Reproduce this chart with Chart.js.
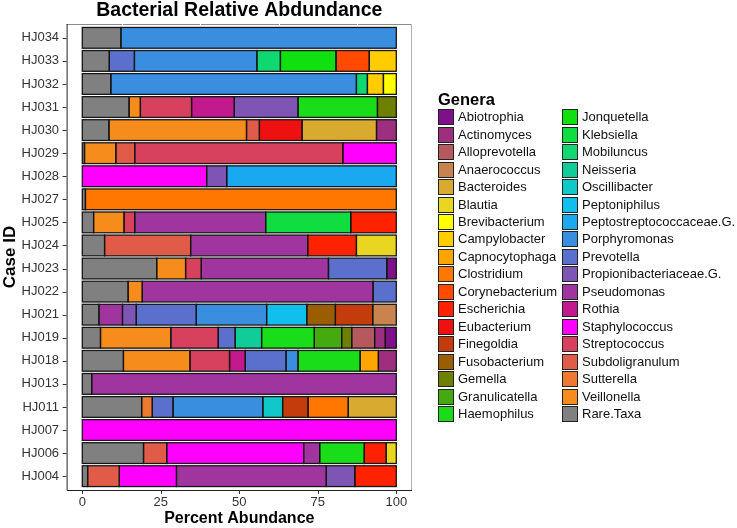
<!DOCTYPE html>
<html>
<head>
<meta charset="utf-8">
<script src="https://cdn.jsdelivr.net/npm/chart.js@4.4.1/dist/chart.umd.min.js"></script>
<style>
  body { margin: 0; background: #fff; font-family: 'Liberation Sans', Arial, sans-serif; }
  #wrap { position: relative; width: 737px; height: 528px; }
  #myChart { position: absolute; left: 0; top: 0; }
  .leg-title { position: absolute; left: 438px; top: 91px; font-weight: bold; font-size: 16.5px; line-height: 1; color: #000; }
  .leg-item { position: absolute; height: 16px; font-size: 13px; line-height: 16px; color: #111; white-space: nowrap; }
  .leg-item span { display: inline-block; width: 14px; height: 14px; border: 1px solid #222; vertical-align: top; margin-right: 4px; }
</style>
</head>
<body>
<div id="wrap">
  <canvas id="myChart" width="737" height="528"></canvas>
  <div id="legend"></div>
</div>
<script>
// case IDs, top to bottom
const cases = ['HJ034','HJ033','HJ032','HJ031','HJ030','HJ029','HJ028','HJ027','HJ025','HJ024',
               'HJ023','HJ022','HJ021','HJ019','HJ018','HJ013','HJ011','HJ007','HJ006','HJ004']
const xTicks = [0, 25, 50, 75, 100]

// percent abundance per genus, one value per case (same order as cases)
const Abiotrophia      = [0,0,0,0,0,0,0,0,0,0, 3.0,0,0,3.5,0,0,0,0,0,0]
const Actinomyces      = [0,0,0,0,6.3,0,0,0,0,0, 0,0,0,3.4,5.7,0,0,0,0,0]
const Alloprevotella   = [0,0,0,0,0,0,0,0,0,0, 0,0,0,7.3,0,0,0,0,0,0]
const Anaerococcus     = [0,0,0,0,0,0,0,0,0,0, 0,0,7.5,0,0,0,0,0,0,0]
const Bacteroides      = [0,0,0,0,23.7,0,0,0,0,0, 0,0,0,0,0,0,15.3,0,0,0]
const Blautia          = [0,0,0,0,0,0,0,0,0,12.7, 0,0,0,0,0,0,0,0,3.2,0]
const Brevibacterium   = [0,0,4.1,0,0,0,0,0,0,0, 0,0,0,0,0,0,0,0,0,0]
const Campylobacter    = [0,8.6,5.1,0,0,0,0,0,0,0, 0,0,0,0,0,0,0,0,0,0]
const Capnocytophaga   = [0,0,0,0,0,0,0,0,0,0, 0,0,0,0,5.8,0,0,0,0,0]
const Clostridium      = [0,0,0,0,0,0,0,99.0,0,0, 0,0,0,0,0,0,12.8,0,0,0]
const Corynebacterium  = [0,10.6,0,0,0,0,0,0,0,0, 0,0,0,0,0,0,0,0,0,0]
const Escherichia      = [0,0,0,0,0,0,0,0,14.5,15.5, 0,0,0,0,0,0,0,0,7.0,13.2]
const Eubacterium      = [0,0,0,0,13.6,0,0,0,0,0, 0,0,0,0,0,0,0,0,0,0]
const Finegoldia       = [0,0,0,0,0,0,0,0,0,0, 0,0,11.9,0,0,0,8.1,0,0,0]
const Fusobacterium    = [0,0,0,0,0,0,0,0,0,0, 0,0,9.1,0,0,0,0,0,0,0]
const Gemella          = [0,0,0,6.0,0,0,0,0,0,0, 0,0,0,3.2,0,0,0,0,0,0]
const Granulicatella   = [0,0,0,0,0,0,0,0,0,0, 0,0,0,8.7,0,0,0,0,0,0]
const Haemophilus      = [0,0,0,25.3,0,0,0,0,0,0, 0,0,0,16.8,19.8,0,0,0,14.2,0]
const Jonquetella      = [0,17.7,0,0,0,0,0,0,0,0, 0,0,0,0,0,0,0,0,0,0]
const Klebsiella       = [0,0,0,0,0,0,0,0,27.1,0, 0,0,0,0,0,0,0,0,0,0]
const Mobiluncus       = [0,7.5,3.5,0,0,0,0,0,0,0, 0,0,0,0,0,0,0,0,0,0]
const Neisseria        = [0,0,0,0,0,0,0,0,0,0, 0,0,0,8.4,0,0,0,0,0,0]
const Oscillibacter    = [0,0,0,0,0,0,0,0,0,0, 0,0,0,0,0,0,6.3,0,0,0]
const Peptoniphilus    = [0,0,0,0,0,0,0,0,0,0, 0,0,12.8,0,0,0,0,0,0,0]
const Peptostrep       = [0,0,0,0,0,0,54.0,0,0,0, 0,0,0,0,0,0,0,0,0,0]
const Porphyromonas    = [87.7,39.0,78.2,0,0,0,0,0,0,0, 0,0,22.4,0,3.8,0,28.6,0,0,0]
const Prevotella       = [0,8.0,0,0,0,0,0,0,0,0, 18.6,7.4,19.1,5.4,13.0,0,6.6,0,0,0]
const Propionibact     = [0,0,0,20.3,0,0,6.4,0,0,0, 0,0,4.4,0,0,0,0,0,0,9.1]
const Pseudomonas      = [0,0,0,0,0,0,0,0,41.7,37.3, 40.5,73.5,7.5,0,0,97.0,0,0,5.1,47.7]
const Rothia           = [0,0,0,13.6,0,0,0,0,0,0, 0,0,0,0,5.0,0,0,0,0,0]
const Staphylococcus   = [0,0,0,0,0,17.0,39.6,0,0,0, 0,0,0,0,0,0,0,100,43.6,18.2]
const Streptococcus    = [0,0,0,16.3,0,66.3,0,0,3.4,0, 5.0,0,0,15.1,12.6,0,0,0,0,0]
const Subdoligranulum  = [0,0,0,0,4.1,6.0,0,0,0,27.4, 0,0,0,0,0,0,0,0,7.4,10.1]
const Sutterella       = [0,0,0,0,0,0,0,0,0,0, 0,0,0,0,0,0,3.4,0,0,0]
const Veillonella      = [0,0,0,3.6,43.8,10.0,0,0,9.7,0, 9.2,4.5,0,22.4,21.2,0,0,0,0,0]
const RareTaxa         = [12.3,8.6,9.1,14.9,8.5,0.7,0,1.0,3.6,7.1, 23.7,14.6,5.3,5.8,13.1,3.0,18.9,0,19.5,1.7]

// legend order (alphabetical, Rare.Taxa last)
const genera = [
  ['Abiotrophia', Abiotrophia, '#7e108a'],
  ['Actinomyces', Actinomyces, '#9e2f7f'],
  ['Alloprevotella', Alloprevotella, '#b5595e'],
  ['Anaerococcus', Anaerococcus, '#c8834e'],
  ['Bacteroides', Bacteroides, '#d9aa30'],
  ['Blautia', Blautia, '#e8d620'],
  ['Brevibacterium', Brevibacterium, '#ffff00'],
  ['Campylobacter', Campylobacter, '#ffcc00'],
  ['Capnocytophaga', Capnocytophaga, '#ffa500'],
  ['Clostridium', Clostridium, '#ff7700'],
  ['Corynebacterium', Corynebacterium, '#ff4a00'],
  ['Escherichia', Escherichia, '#ff2200'],
  ['Eubacterium', Eubacterium, '#ee1111'],
  ['Finegoldia', Finegoldia, '#c43c0c'],
  ['Fusobacterium', Fusobacterium, '#9a5e00'],
  ['Gemella', Gemella, '#6e8000'],
  ['Granulicatella', Granulicatella, '#44aa10'],
  ['Haemophilus', Haemophilus, '#18dd18'],
  ['Jonquetella', Jonquetella, '#10e010'],
  ['Klebsiella', Klebsiella, '#10dd40'],
  ['Mobiluncus', Mobiluncus, '#10d870'],
  ['Neisseria', Neisseria, '#10cc99'],
  ['Oscillibacter', Oscillibacter, '#10c8c8'],
  ['Peptoniphilus', Peptoniphilus, '#10bfee'],
  ['Peptostreptococcaceae.G.', Peptostrep, '#1aa8f0'],
  ['Porphyromonas', Porphyromonas, '#3a8ee0'],
  ['Prevotella', Prevotella, '#5a70cc'],
  ['Propionibacteriaceae.G.', Propionibact, '#7e55b5'],
  ['Pseudomonas', Pseudomonas, '#a0359f'],
  ['Rothia', Rothia, '#c21a8c'],
  ['Staphylococcus', Staphylococcus, '#ff00ff'],
  ['Streptococcus', Streptococcus, '#d8415e'],
  ['Subdoligranulum', Subdoligranulum, '#e05c48'],
  ['Sutterella', Sutterella, '#ee7a32'],
  ['Veillonella', Veillonella, '#f58c1c'],
  ['Rare.Taxa', RareTaxa, '#808080']
]

const font = "'Liberation Sans', Arial, sans-serif"

// bars stack from the left in reverse legend order (Rare.Taxa first)
const datasets = genera.slice().reverse().map(g => ({
  label: g[0],
  data: g[1].map(v => v === 0 ? null : v),
  backgroundColor: g[2],
  borderWidth: 0,
  barPercentage: 0.9,
  categoryPercentage: 1
}))

// ggplot-like panel: frame, white minor grid, bar outlines, axis lines, ticks, title
const panel = {
  id: 'panel',
  beforeDatasetsDraw(chart) {
    const {ctx, chartArea: a, scales: {x}} = chart
    const step = (a.bottom - a.top) / cases.length
    const top = a.top - 0.1 * step, bot = a.bottom + 0.1 * step
    ctx.save()
    ctx.lineWidth = 1
    ctx.strokeStyle = '#8a8a8a'
    ctx.beginPath(); ctx.moveTo(a.left, top + 0.5); ctx.lineTo(a.right, top + 0.5); ctx.stroke()
    ctx.strokeStyle = '#b0b0b0'
    ctx.beginPath(); ctx.moveTo(a.right - 0.5, top); ctx.lineTo(a.right - 0.5, bot); ctx.stroke()
    ctx.strokeStyle = '#ffffff'
    ;[12.5, 37.5, 62.5, 87.5].forEach(v => {
      const px = Math.round(x.getPixelForValue(v)) + 0.5
      ctx.beginPath(); ctx.moveTo(px, top); ctx.lineTo(px, bot); ctx.stroke()
    })
    ctx.restore()
  },
  afterDatasetsDraw(chart) {
    const {ctx, chartArea: a, scales: {x, y}} = chart
    const step = (a.bottom - a.top) / cases.length
    const top = a.top - 0.1 * step, bot = a.bottom + 0.1 * step
    ctx.save()
    // outline every segment (shared edges get a single line, as in ggplot)
    ctx.lineWidth = 1.3
    ctx.strokeStyle = '#161616'
    chart.getSortedVisibleDatasetMetas().forEach(meta => {
      meta.data.forEach((bar, i) => {
        if (meta._dataset.data[i] == null) return
        const p = bar.getProps(['x', 'y', 'base', 'height'], true)
        ctx.strokeRect(Math.min(p.x, p.base), p.y - p.height / 2, Math.abs(p.x - p.base), p.height)
      })
    })
    ctx.lineWidth = 1
    ctx.strokeStyle = '#222'
    ctx.beginPath()
    ctx.moveTo(a.left + 0.5, top); ctx.lineTo(a.left + 0.5, bot + 0.5); ctx.lineTo(a.right, bot + 0.5)
    ctx.stroke()
    ctx.strokeStyle = '#333'
    ctx.beginPath()
    xTicks.forEach(v => {
      const px = Math.round(x.getPixelForValue(v)) + 0.5
      ctx.moveTo(px, bot); ctx.lineTo(px, bot + 4)
    })
    cases.forEach((c, i) => {
      const py = Math.round(y.getPixelForValue(i)) + 0.5
      ctx.moveTo(a.left - 4, py); ctx.lineTo(a.left, py)
    })
    ctx.stroke()
    ctx.fillStyle = '#000'
    ctx.font = 'bold 19.5px ' + font
    ctx.textAlign = 'center'
    ctx.textBaseline = 'alphabetic'
    ctx.fillText('Bacterial Relative Abdundance', x.getPixelForValue(50), 16)
    ctx.restore()
  }
}

new Chart(document.getElementById('myChart'), {
  type: 'bar',
  data: { labels: cases, datasets },
  options: {
    indexAxis: 'y',
    responsive: false,
    animation: false,
    layout: { padding: { top: 26.3, right: 325, left: 0, bottom: 0 } },
    plugins: { legend: { display: false }, tooltip: { enabled: false } },
    scales: {
      x: {
        stacked: true,
        min: -5,
        max: 105,
        afterBuildTicks: axis => { axis.ticks = xTicks.map(v => ({ value: v })) },
        afterFit: scale => { scale.height = 40.3 },
        grid: { display: false, drawTicks: false },
        border: { display: false },
        ticks: { color: '#333', font: { family: font, size: 13 }, padding: 7, maxRotation: 0 },
        title: { display: true, text: 'Percent Abundance', color: '#000', font: { family: font, size: 16, weight: 'bold' }, padding: 0 }
      },
      y: {
        stacked: true,
        afterFit: scale => { scale.width = 66.6 },
        grid: { display: false, drawTicks: false },
        border: { display: false },
        ticks: { color: '#333', font: { family: font, size: 13 }, padding: 7.5 },
        title: { display: true, text: 'Case ID', color: '#000', font: { family: font, size: 17, weight: 'bold' }, padding: 0 }
      }
    }
  },
  plugins: [panel]
})

// two-column legend built from the same genera list
const legend = document.getElementById('legend')
const head = document.createElement('div')
head.className = 'leg-title'
head.textContent = 'Genera'
legend.appendChild(head)
genera.forEach((g, i) => {
  const col = Math.floor(i / 18), row = i % 18
  const item = document.createElement('div')
  item.className = 'leg-item'
  item.style.left = (col === 0 ? 438 : 562) + 'px'
  item.style.top = (109.3 + row * 17.45) + 'px'
  item.innerHTML = `<span style="background:${g[2]}"></span>${g[0]}`
  legend.appendChild(item)
})
</script>
</body>
</html>
